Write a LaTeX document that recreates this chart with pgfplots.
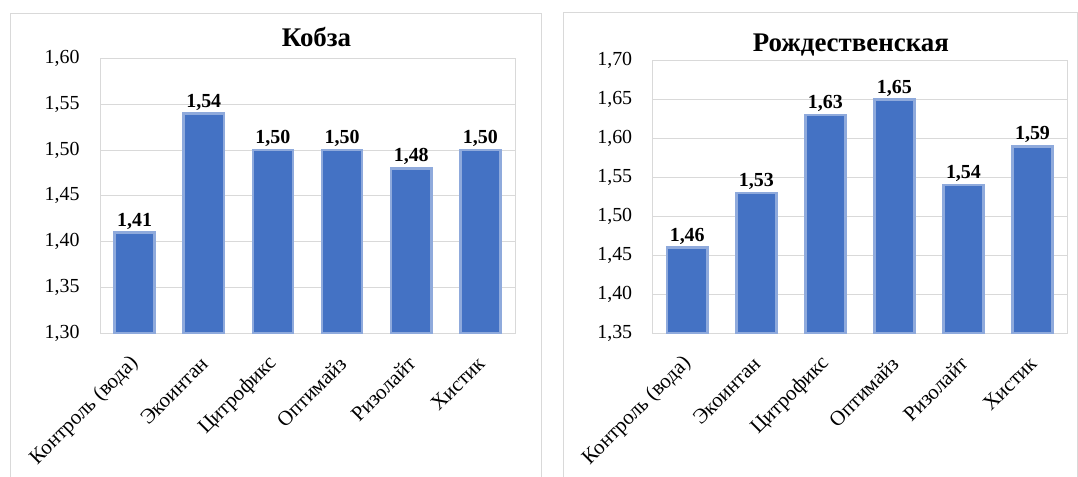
\documentclass[border=0pt]{standalone}
\usepackage{fontspec}
\setmainfont{Liberation Serif}
\usepackage{pgfplots}
\pgfplotsset{compat=1.18}
\definecolor{barblue}{HTML}{4472C4}
\definecolor{baredge}{HTML}{8FAADC}
\definecolor{gridgray}{HTML}{D9D9D9}
\pgfplotsset{excelbar/.style={
  scale only axis,
  clip=false,
  ybar, bar width=0.58,
  xmin=-0.5, xmax=5.5,
  xtick={0,1,2,3,4,5},
  xticklabels={Контроль (вода),Экоинтан,Цитрофикс,Оптимайз,Ризолайт,Хистик},
  xticklabel style={xshift=3bp, yshift=-25bp, rotate=45, anchor=east, font=\fontsize{21}{23}\selectfont},
  yticklabel style={font=\fontsize{20}{22}\selectfont, xshift=-17bp},
  major tick length=0pt,
  ymajorgrids, grid style={gridgray, line width=0.8bp},
  axis line style={gridgray, line width=0.8bp},
  /pgf/number format/fixed,
  /pgf/number format/fixed zerofill,
  /pgf/number format/precision=2,
  /pgf/number format/use comma,
  /pgf/number format/assume math mode=true,
  nodes near coords,
  nodes near coords style={font=\bfseries\fontsize{20}{22}\selectfont, text=black, inner sep=2bp},
  every axis title/.style={font=\bfseries\fontsize{27}{30}\selectfont, at={(0.5,1)}, anchor=base},
}}
\begin{document}
\begin{tikzpicture}[x=1bp,y=1bp]
\useasboundingbox (0,0) rectangle (1078,477);
\fill[white] (0,0) rectangle (1078,477);
\draw[gridgray, line width=1bp] (10,0) -- (10,463) -- (541,463) -- (541,0);
\draw[gridgray, line width=1bp] (563,0) -- (563,464) -- (1077,464) -- (1077,0);
\begin{axis}[excelbar,
  at={(100bp,144bp)}, anchor=south west,
  width=415bp, height=274.5bp,
  ymin=1.30, ymax=1.60,
  ytick={1.30,1.35,1.40,1.45,1.50,1.55,1.60},
  title={Кобза},
  title style={yshift=12bp, xshift=9bp},
]
\addplot[fill=barblue, draw=baredge, line width=2.5bp] coordinates {(0,1.41) (1,1.54) (2,1.50) (3,1.50) (4,1.48) (5,1.50)};
\end{axis}
\begin{axis}[excelbar,
  at={(652.7bp,144bp)}, anchor=south west,
  width=414.3bp, height=272.3bp,
  ymin=1.35, ymax=1.70,
  ytick={1.35,1.40,1.45,1.50,1.55,1.60,1.65,1.70},
  title={Рождественская},
  title style={yshift=9bp, xshift=-9bp},
]
\addplot[fill=barblue, draw=baredge, line width=2.5bp] coordinates {(0,1.46) (1,1.53) (2,1.63) (3,1.65) (4,1.54) (5,1.59)};
\end{axis}
\end{tikzpicture}
\end{document}
